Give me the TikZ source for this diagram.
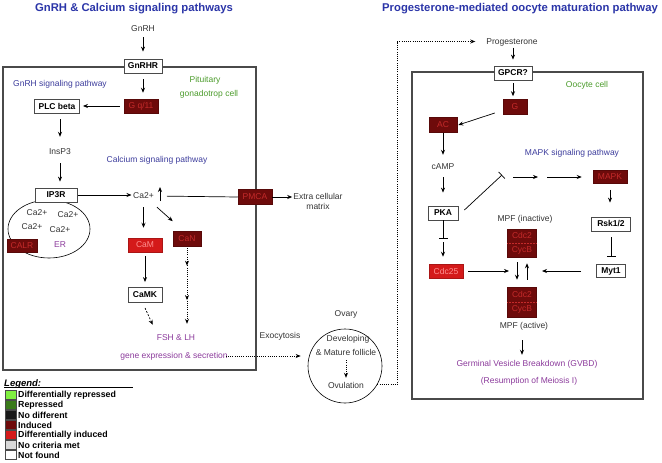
\documentclass[tikz,border=0pt]{standalone}
\usepackage{fontspec}
\setmainfont{Liberation Sans}
\usetikzlibrary{arrows.meta,decorations.markings,shapes.geometric}
\definecolor{tgray}{HTML}{333333}
\definecolor{ttl}{HTML}{2B35A8}
\definecolor{pblue}{HTML}{3C3C9C}
\definecolor{pgreen}{HTML}{4B9B2B}
\definecolor{ppurple}{HTML}{8B3A9B}
\definecolor{indc}{HTML}{6E0B0B}
\definecolor{indt}{HTML}{C42A2A}
\definecolor{dindc}{HTML}{D41A1A}
\definecolor{dindt}{HTML}{FF9090}
\definecolor{framec}{HTML}{4A4A4A}
\definecolor{lgreen}{HTML}{80F040}
\definecolor{dgreen}{HTML}{3A7A1A}
\definecolor{lgray}{HTML}{D8D8D8}
\begin{document}
\begin{tikzpicture}[x=1pt,y=-1pt,
  txt/.style={font=\fontsize{8.5}{10}\selectfont, text=tgray, inner sep=1pt, text height=6.5pt, text depth=1.5pt},
  txtm/.style={font=\fontsize{8.5}{10}\selectfont, text=tgray, inner sep=1pt},
  ttlstyle/.style={font=\bfseries\fontsize{11.3}{13}\selectfont, text=ttl},
  blu/.style={txt, text=pblue},
  grn/.style={txt, text=pgreen},
  pur/.style={txt, text=ppurple},
  wbox/.style={draw=framec, fill=white, line width=0.8pt, font=\bfseries\fontsize{8.5}{10}\selectfont, text=black, inner sep=0pt, minimum height=14pt},
  ind/.style={fill=indc, draw=indc!80!black, line width=0.5pt, font=\fontsize{8.5}{10}\selectfont, text=indt, inner sep=0pt, minimum height=14pt},
  dind/.style={fill=dindc, draw=dindc!80!black, line width=0.5pt, font=\fontsize{8.5}{10}\selectfont, text=dindt, inner sep=0pt, minimum height=14pt},
  frame/.style={draw=framec, line width=1.1pt},
  arr/.style={-{Stealth[length=5pt,width=4pt]}, line width=0.7pt, black},
  inh/.style={-{Bar[width=9pt]}, line width=0.7pt, black},
  dsh/.style={arr, dash pattern=on 2pt off 1.5pt},
  dot/.style={line width=0.7pt, dash pattern=on 1pt off 1.2pt},
  legt/.style={font=\bfseries\fontsize{8.8}{10}\selectfont, anchor=west, inner sep=0pt},
  legb/.style={draw=framec, line width=0.6pt, minimum width=11pt, minimum height=8.5pt, inner sep=0pt}
]
\useasboundingbox (0,0) rectangle (662,463);
% titles
\node[ttlstyle] (t1) at (134,9) {GnRH \& Calcium signaling pathways};
\node[ttlstyle] (t2) at (520,9) {Progesterone-mediated oocyte maturation pathway};
% frames
\draw[frame] (3,67) rectangle (256,370);
\draw[frame] (412,72) rectangle (643,399);
% ---------------- left part
\node[txt] (gnrh) at (143,29) {GnRH};
\node[wbox, minimum width=38pt] (gnrhr) at (143,66) {GnRHR};
\node[blu] (gnrhsig) at (60,84) {GnRH signaling pathway};
\node[grn] (pit) at (205,80) {Pituitary};
\node[grn] (gon) at (209,94) {gonadotrop cell};
\node[ind, minimum width=34pt] (gq) at (141,106) {G q/11};
\node[wbox, minimum width=45pt] (plc) at (57,106) {PLC beta};
\node[txt] (insp3) at (60,152) {InsP3};
\node[blu] (casig) at (157,160) {Calcium signaling pathway};
\node[ellipse, draw=black, line width=0.6pt, minimum width=82pt, minimum height=58pt] (er) at (49,229) {};
\node[wbox, minimum width=42pt] (ip3r) at (56,195) {IP3R};
\node[txt] (ca1) at (37,213) {Ca2+};
\node[txt] (ca2) at (68,215) {Ca2+};
\node[txt] (ca3) at (32,227) {Ca2+};
\node[txt] (ca4) at (60,230) {Ca2+};
\node[pur] (erl) at (60,245) {ER};
\node[ind, minimum width=30pt, minimum height=13pt] (calr) at (22,246) {CALR};
\node[txt] (ca) at (143.5,196) {Ca2+};
\coordinate (caup1) at (160,201);
\coordinate (caup2) at (160,187);
\node[ind, minimum width=34pt, minimum height=15pt] (pmca) at (255,197) {PMCA};
\node[txtm, align=center] (ecm) at (318,201) {Extra cellular\\matrix};
\node[dind, minimum width=34pt] (cam) at (145,245) {CaM};
\node[ind, minimum width=28pt, minimum height=15pt] (can) at (187,239) {CaN};
\node[wbox, minimum width=34pt, minimum height=15pt] (camk) at (145,295) {CaMK};
\node[pur] (fsh) at (176,338) {FSH \& LH};
\node[pur] (gene) at (174,356) {gene expression \& secretion};
\node[txt] (exo) at (280,336) {Exocytosis};
\node[txt] (ovary) at (346,314) {Ovary};
\node[circle, draw=black, line width=0.6pt, minimum size=74pt, inner sep=0pt] (fol) at (345,366) {};
\node[txt] (dev) at (348,339) {Developing};
\node[txt] (mat) at (346,353) {\& Mature follicle};
\node[txt] (ovu) at (346,386) {Ovulation};
% left connectors
\draw[arr, shorten <=3pt, shorten >=7pt] (gnrh) -- (gnrhr);
\draw[arr, shorten <=6pt, shorten >=6pt] (gnrhr.south) -- (gnrhr.south |- gq.north);
\draw[arr, shorten <=4pt, shorten >=3pt] (gq.west) -- (plc.east);
\draw[arr, shorten <=6pt, shorten >=10pt] (plc.south -| insp3) -- (insp3.north);
\draw[arr, shorten <=6pt, shorten >=6pt] (insp3.south) -- (insp3.south |- ip3r.north);
\draw[arr, shorten <=1pt, shorten >=12pt] (ip3r.east) -- (ip3r.east -| ca);
\draw[arr] (caup1) -- (caup2);
\draw[line width=0.7pt, shorten <=12pt] (ca.east) -- (pmca.west);
\draw[arr] (pmca.east) -- (pmca.east -| ecm.west);
\draw[arr, shorten <=6pt, shorten >=10pt] (ca.south) -- (ca.south |- cam.north);
\draw[arr] ([xshift=2pt,yshift=-6pt]ca.south east) -- ([yshift=10pt]can.north west);
\draw[arr, shorten <=4pt, shorten >=5pt] (cam.south) -- (camk.north);
\draw[dsh] ([yshift=-5pt]camk.south) -- ([xshift=-3pt,yshift=8pt]fsh.north west);
\draw[dot, shorten <=1pt, shorten >=9pt,
  postaction={decorate, decoration={markings,
    mark=at position 0.22 with {\arrow{Stealth[length=5pt,width=4pt]}},
    mark=at position 0.62 with {\arrow{Stealth[length=5pt,width=4pt]}}}},
  -{Stealth[length=5pt,width=4pt]}] (can.south) -- (can.south |- fsh.north);
\draw[dot, -{Stealth[length=5pt,width=4pt]}, shorten <=-3pt, shorten >=7pt] (gene.east) -- (gene.east -| fol.west);
\draw[dot, -{Stealth[length=5pt,width=4pt]}, shorten <=2pt, shorten >=3pt] (mat.south) -- (ovu.north);
% ---------------- right part
\node[txt] (prog) at (512,41.5) {Progesterone};
\draw[dot, -{Stealth[length=5pt,width=4pt]}, shorten >=10pt] (fol.-30) -- ++(20,0) |- (prog.west);
\node[wbox, minimum width=38pt] (gpcr) at (513,73) {GPCR?};
\node[grn] (oocyte) at (587,85) {Oocyte cell};
\node[ind, minimum width=24pt, minimum height=15pt] (g) at (515,107) {G};
\node[ind, minimum width=28pt, minimum height=15pt] (ac) at (443,125) {AC};
\node[txt] (camp) at (443,167) {cAMP};
\node[wbox, minimum width=30pt] (pka) at (443,213) {PKA};
\node[blu] (mapksig) at (572,153) {MAPK signaling pathway};
\node[ind, minimum width=34pt, minimum height=13pt] (mapk) at (610,177) {MAPK};
\node[wbox, minimum width=39pt] (rsk) at (611,224) {Rsk1/2};
\node[wbox, minimum width=29pt, minimum height=13pt] (myt) at (611,271) {Myt1};
\node[dind, minimum width=34pt] (cdc25) at (446,271) {Cdc25};
\node[txt] (mpfin) at (525,219) {MPF (inactive)};
\node[ind, minimum width=29pt, minimum height=28pt, align=center, font=\fontsize{8.5}{14}\selectfont] (mpfi) at (522,243) {Cdc2\\CycB};
\draw[indt, densely dotted, line width=0.5pt] (mpfi.west) -- (mpfi.east);
\node[ind, minimum width=29pt, minimum height=30pt, align=center, font=\fontsize{8.5}{14}\selectfont] (mpfa) at (522,302) {Cdc2\\CycB};
\draw[indt, densely dotted, line width=0.5pt] (mpfa.west) -- (mpfa.east);
\node[txt] (mpfact) at (524,326) {MPF (active)};
\node[pur] (gvbd) at (527,364) {Germinal Vesicle Breakdown (GVBD)};
\node[pur] (resump) at (529,381) {(Resumption of Meiosis I)};
\coordinate (tb) at (502,175);
\coordinate (m1) at (513,177);
\coordinate (m2) at (538,177);
\coordinate (m3) at (547,177);
\coordinate (pb) at (443,239);
\coordinate (cdcin) at (509,271);
\coordinate (mytin) at (542,271);
% right connectors
\draw[arr, shorten <=1pt, shorten >=6pt] (prog.south -| gpcr) -- (gpcr.north);
\draw[arr, shorten <=3pt, shorten >=3pt] (gpcr.south) -- (gpcr.south |- g.north);
\draw[arr] ([xshift=-8pt,yshift=-6pt]g.west) -- ([xshift=1pt]ac.east);
\draw[arr, shorten <=0pt, shorten >=7pt] (ac.south) -- (camp.north);
\draw[arr, shorten <=5pt, shorten >=13pt] (camp.south) -- (pka.north);
\draw[inh] ([xshift=6pt,yshift=3pt]pka.east) -- (tb);
\draw[arr] (m1) -- (m2);
\draw[arr, shorten >=11pt] (m3) -- (mapk.west);
\draw[arr, shorten <=6pt, shorten >=14pt] (mapk.south) -- (mapk.south |- rsk.north);
\draw[inh, shorten <=6pt, shorten >=7pt] (rsk.south) -- (myt.north);
\draw[arr, shorten <=15pt] (myt.west) -- (mytin);
\draw[inh] (pka.south) -- (pb);
\draw[arr, shorten <=3pt, shorten >=7pt] (pb) -- (pb |- cdc25.north);
\draw[arr, shorten <=5pt] (cdc25.east) -- (cdcin);
\draw[arr, shorten <=5pt, shorten >=7pt] ([xshift=-5pt]mpfi.south) -- ([xshift=-5pt]mpfa.north);
\draw[arr, shorten <=7pt, shorten >=6pt] ([xshift=5pt]mpfa.north) -- ([xshift=5pt]mpfi.south);
\draw[arr, shorten <=9pt, shorten >=4pt] (mpfact.south -| mpfi) -- (gvbd.north -| mpfi);
% ---------------- legend
\node[font=\bfseries\itshape\fontsize{9.5}{11}\selectfont, anchor=west, inner sep=0pt] (leg) at (4,384) {Legend:};
\draw[line width=1pt] (leg.south west) ++(0,-1) -- ++(129,0);
\node[legb, fill=lgreen] (l1) at (11,395) {};
\node[legt] (lt1) at (18,395) {Differentially repressed};
\node[legb, fill=dgreen] (l2) at (11,405) {};
\node[legt] (lt2) at (18,405) {Repressed};
\node[legb, fill=black!90] (l3) at (11,415) {};
\node[legt] (lt3) at (18,415) {No different};
\node[legb, fill=indc] (l4) at (11,425) {};
\node[legt] (lt4) at (18,425) {Induced};
\node[legb, fill=dindc] (l5) at (11,435) {};
\node[legt] (lt5) at (18,435) {Differentially induced};
\node[legb, fill=lgray] (l6) at (11,445) {};
\node[legt] (lt6) at (18,445) {No criteria met};
\node[legb, fill=white] (l7) at (11,455) {};
\node[legt] (lt7) at (18,455) {Not found};
\end{tikzpicture}
\end{document}
